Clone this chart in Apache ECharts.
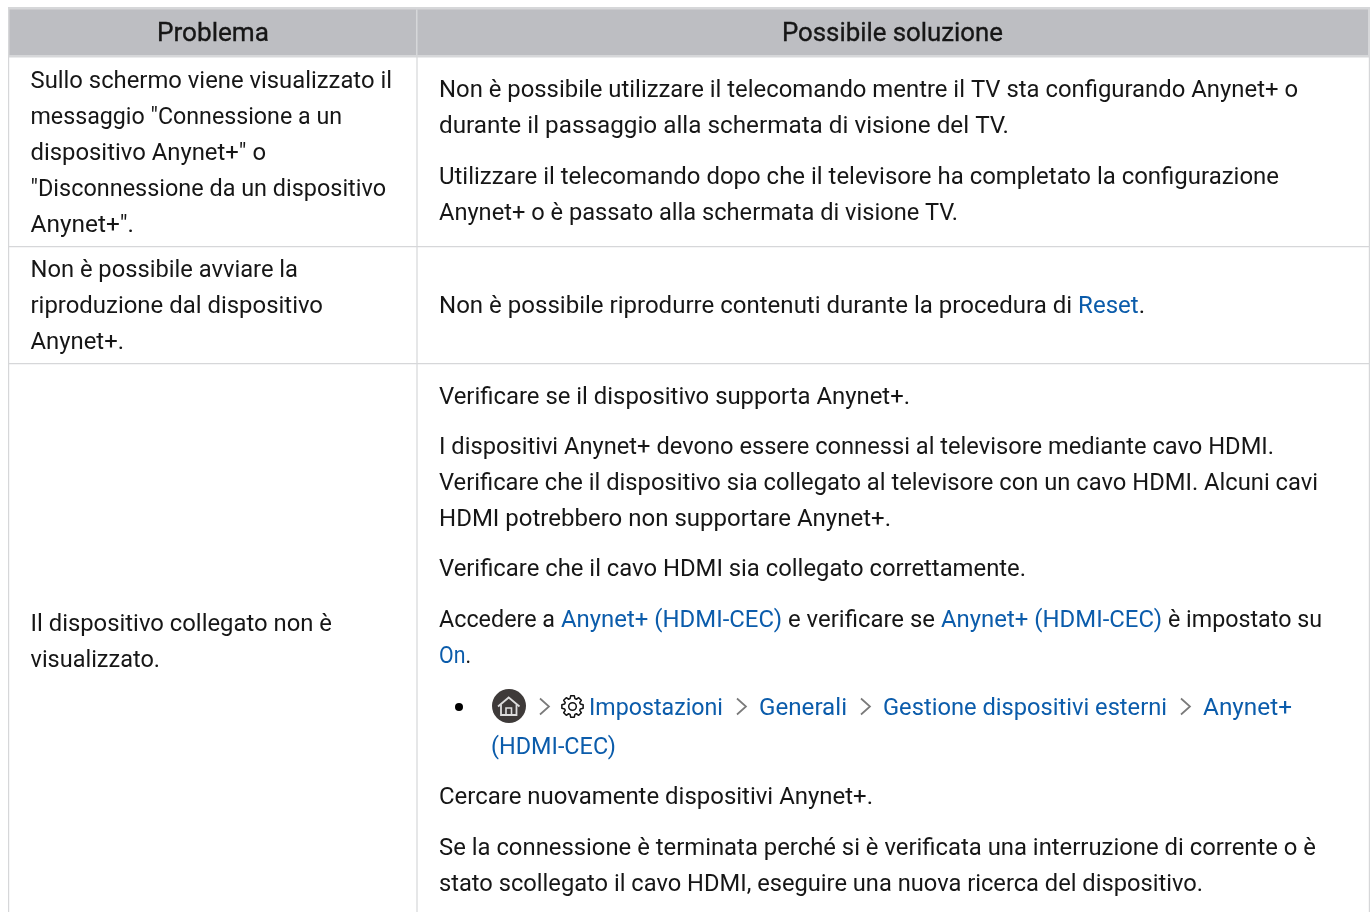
<!DOCTYPE html>
<html><head><meta charset="utf-8">
<style>html,body{margin:0;padding:0;background:#fff}#c{width:1370px;height:912px}</style>
<script src="https://cdn.jsdelivr.net/npm/echarts@6/dist/echarts.min.js"></script>
</head><body><div id="c"></div>
<script>
const headers = ["Problema", "Possibile soluzione"];
const problemLines = [
  'Sullo schermo viene visualizzato il',
  'messaggio "Connessione a un',
  'dispositivo Anynet+" o',
  '"Disconnessione da un dispositivo',
  'Anynet+".',
  'Non è possibile avviare la',
  'riproduzione dal dispositivo',
  'Anynet+.',
  'Il dispositivo collegato non è',
  'visualizzato.'
];
const solutionLines = [
  'Non è possibile utilizzare il telecomando mentre il TV sta configurando Anynet+ o',
  'durante il passaggio alla schermata di visione del TV.',
  'Utilizzare il telecomando dopo che il televisore ha completato la configurazione',
  'Anynet+ o è passato alla schermata di visione TV.',
  'Non è possibile riprodurre contenuti durante la procedura di {b|Reset}.',
  'Verificare se il dispositivo supporta Anynet+.',
  'I dispositivi Anynet+ devono essere connessi al televisore mediante cavo HDMI.',
  'Verificare che il dispositivo sia collegato al televisore con un cavo HDMI. Alcuni cavi',
  'HDMI potrebbero non supportare Anynet+.',
  'Verificare che il cavo HDMI sia collegato correttamente.',
  '{b|On}.',
  'Cercare nuovamente dispositivi Anynet+.',
  'Se la connessione è terminata perché si è verificata una interruzione di corrente o è',
  'stato scollegato il cavo HDMI, eseguire una nuova ricerca del dispositivo.'
];
const accessSegments = ['Accedere a', '{b|Anynet+ (HDMI-CEC)}', 'e verificare se', '{b|Anynet+ (HDMI-CEC)}', 'è impostato su'];
const menuPath = ["Impostazioni", "Generali", "Gestione dispositivi esterni", "Anynet+"];
const menuWrap = "(HDMI-CEC)";

const problemY = [80,116,152,188,224,269,305,341,623,659];
const problemEnd = [392,342,266,386,134,298,323,124,332,160];
const solutionY = [89,125,176,212,305,396,446,482,518,568,655,796,847,883];
const solutionEnd = [1298,1009,1279,958,1145,910,1274,1318,891,1026,471,873,1316,1203];
const accessX = [439,561,788,941,1168];
const accessEnd = [555,782,935,1162,1322];
const menuX = [589,759,883,1203];
const menuEnd = [723,847,1167,1292];
const chevronX = [540,737,861,1181];
const rowLines = [246,363];

const FONT = 'Roboto, "Noto Sans", sans-serif';
const SIZE = 24, DY = 2, INK = '#161616', BLUE = '#0b5cab', RULE = '#d6d7d9', HEAD = '#bdbec2';
const g = [];
const mctx = document.createElement('canvas').getContext('2d');
function measure(t,font){ mctx.font = font; return mctx.measureText(t.replace(/\{b\|([^}]*)\}/g,'$1')).width; }
function rect(x,y,w,h,fill){ g.push({type:'rect',shape:{x,y,width:w,height:h},style:{fill},silent:true}); }
function txt(text,x,y,opt,endX){
  const font = (opt&&opt.font)||SIZE+'px '+FONT;
  const el = {type:'text',x,y:y+DY,silent:true,style:Object.assign({
    text,fill:INK,font,textAlign:'left',textVerticalAlign:'middle',
    rich:{b:{fill:BLUE,font:SIZE+'px '+FONT}}},opt||{})};
  if(endX!=null){ el.scaleX=(endX-x)/measure(text,font); }
  g.push(el);
}

rect(8,7,1362,50.5,RULE);
rect(9.5,9.5,1358.5,45.5,HEAD);
rect(416,9.5,1.5,45.5,RULE);
rect(8,57,1.2,855,RULE);
rect(416.4,57,1.2,855,RULE);
rect(1368.8,57,1.2,855,RULE);
rowLines.forEach(y=>rect(8,y,1362,1.2,RULE));

const headStyle = {font:'26px '+FONT,stroke:INK,lineWidth:0.35};
txt(headers[0],157,32,headStyle,269);
txt(headers[1],782,32,headStyle,1003);
problemLines.forEach((t,i)=>txt(t,30.5,problemY[i],null,problemEnd[i]));
solutionLines.forEach((t,i)=>txt(t,439,solutionY[i],null,solutionEnd[i]));
accessSegments.forEach((t,i)=>txt(t,accessX[i],619,null,accessEnd[i]));

// menu path row
g.push({type:'circle',shape:{cx:459,cy:707,r:4},style:{fill:'#000'},silent:true});
g.push({type:'circle',shape:{cx:509,cy:706,r:17},style:{fill:'#3e3a39'},silent:true});
g.push({type:'polyline',shape:{points:[[498,706.5],[508.7,697.5],[519.5,706.5]]},style:{stroke:'#ddd',lineWidth:1.8,fill:'none'},silent:true});
g.push({type:'polyline',shape:{points:[[501,704.5],[501,715],[516.5,715],[516.5,704.5]]},style:{stroke:'#ddd',lineWidth:1.8,fill:'none'},silent:true});
g.push({type:'polyline',shape:{points:[[506,715],[506,708],[511.5,708],[511.5,715]]},style:{stroke:'#ddd',lineWidth:1.6,fill:'none'},silent:true});
chevronX.forEach(x=>g.push({type:'polyline',shape:{points:[[x,698.5],[x+9,706.5],[x,714.5]]},style:{stroke:'#7a7a7a',lineWidth:1.7,fill:'none'},silent:true}));
// gear
const gear=[];const cx=572.5,cy=706.5;
for(let i=0;i<8;i++){const a=i*Math.PI/4;[[-0.3,8.2],[-0.17,10.8],[0.17,10.8],[0.3,8.2]].forEach(p=>gear.push([cx+p[1]*Math.cos(a+p[0]),cy+p[1]*Math.sin(a+p[0])]));}
g.push({type:'polygon',shape:{points:gear},style:{stroke:'#111',lineWidth:1.5,fill:'none',lineJoin:'round'},silent:true});
g.push({type:'circle',shape:{cx,cy,r:3.8},style:{stroke:'#111',lineWidth:1.5,fill:'none'},silent:true});
menuPath.forEach((t,i)=>txt(t,menuX[i],707,{fill:BLUE},menuEnd[i]));
txt(menuWrap,491,746,{fill:BLUE},616);

const chart = echarts.init(document.getElementById('c'),null,{renderer:'canvas'});
chart.setOption({animation:false,backgroundColor:'#fff',graphic:{elements:g}});
</script></body></html>
